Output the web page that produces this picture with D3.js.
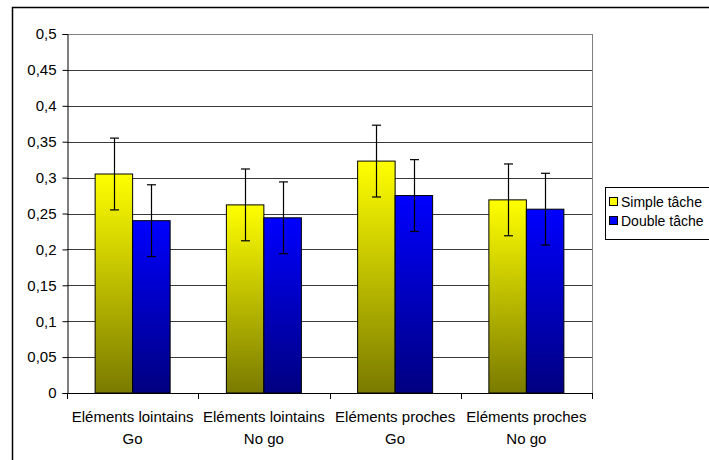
<!DOCTYPE html>
<html>
<head>
<meta charset="utf-8">
<script src="https://cdn.jsdelivr.net/npm/d3@7"></script>
<style>
  html, body { margin: 0; padding: 0; background: #fff; overflow: hidden; }
  svg { display: block; font-family: "Liberation Sans", Arial, sans-serif; }
</style>
</head>
<body>
<svg id="chart" width="709" height="460"></svg>
<script>
const categories = [["Eléments lointains", "Go"], ["Eléments lointains", "No go"], ["Eléments proches", "Go"], ["Eléments proches", "No go"]];
const seriesNames = ["Simple tâche", "Double tâche"];
const simpleValues = [0.305, 0.262, 0.323, 0.269];
const doubleValues = [0.240, 0.244, 0.275, 0.256];
const simpleErrors = [0.05, 0.05, 0.05, 0.05];
const doubleErrors = [0.05, 0.05, 0.05, 0.05];
const yTicks = [0, 0.05, 0.1, 0.15, 0.2, 0.25, 0.3, 0.35, 0.4, 0.45, 0.5];

(function () {
const FONT = "'Liberation Sans', Arial, sans-serif";
const svg = d3.select("#chart");
const pLeft = 67, pRight = 592, pTop = 34, pBottom = 393;

// outer chart border
svg.append("rect").attr("x", 12.5).attr("y", 7.5).attr("width", 740).attr("height", 500)
  .attr("fill", "none").attr("stroke", "#000").attr("stroke-width", 1.5);

const defs = svg.append("defs");
const gradSpecs = [["gradSimple", "#ffff00", "#7a7a00"], ["gradDouble", "#0000ff", "#000080"]];
gradSpecs.forEach(([id, c1, c2]) => {
  const g = defs.append("linearGradient").attr("id", id).attr("x1", 0).attr("y1", 0).attr("x2", 0).attr("y2", 1);
  g.append("stop").attr("offset", "0%").attr("stop-color", c1);
  g.append("stop").attr("offset", "100%").attr("stop-color", c2);
});

const y = d3.scaleLinear().domain([0, 0.5]).range([pBottom, pTop]);
const x0 = d3.scaleBand().domain(d3.range(categories.length)).range([pLeft, pRight]).padding(0);
const bw = x0.bandwidth();
const barW = bw / 3.5;
const x1 = d3.scaleBand().domain(d3.range(seriesNames.length)).range([barW * 0.75, barW * 2.75]).padding(0);

const fmt = v => String(v).replace(".", ",");

// gridlines
svg.append("g").selectAll("line").data(yTicks.filter(t => t > 0)).join("line")
  .attr("x1", pLeft).attr("x2", pRight)
  .attr("y1", d => Math.round(y(d)) + 0.5).attr("y2", d => Math.round(y(d)) + 0.5)
  .attr("stroke", d => d === 0.5 ? "#808080" : "#3a3a3a").attr("stroke-width", 1);

// plot area right border
svg.append("line").attr("x1", pRight + 0.5).attr("x2", pRight + 0.5).attr("y1", pTop).attr("y2", pBottom)
  .attr("stroke", "#808080");

// bars
const series = [
  { vals: simpleValues, errs: simpleErrors, fill: "url(#gradSimple)" },
  { vals: doubleValues, errs: doubleErrors, fill: "url(#gradDouble)" }
];
series.forEach((s, si) => {
  const g = svg.append("g");
  g.selectAll("rect").data(s.vals).join("rect")
    .attr("x", (d, i) => x0(i) + x1(si))
    .attr("y", d => y(d))
    .attr("width", x1.bandwidth())
    .attr("height", d => pBottom - y(d))
    .attr("fill", s.fill)
    .attr("stroke", "#000").attr("stroke-width", 1);
});

// error bars
series.forEach((s, si) => {
  const g = svg.append("g").attr("stroke", "#000").attr("stroke-width", 1.2);
  s.vals.forEach((v, i) => {
    const cx = Math.round(x0(i) + x1(si) + x1.bandwidth() / 2) + 0.5;
    const hi = y(v + s.errs[i]), lo = y(v - s.errs[i]);
    g.append("line").attr("x1", cx).attr("x2", cx).attr("y1", hi).attr("y2", lo);
    g.append("line").attr("x1", cx - 4.5).attr("x2", cx + 4.5).attr("y1", hi).attr("y2", hi);
    g.append("line").attr("x1", cx - 4.5).attr("x2", cx + 4.5).attr("y1", lo).attr("y2", lo);
  });
});

// y axis
const yAxis = d3.axisLeft(y).tickValues(yTicks).tickFormat(fmt).tickSize(5).tickPadding(6);
const ga = svg.append("g").attr("transform", `translate(${pLeft + 0.5},0)`).call(yAxis);
ga.select(".domain").attr("stroke", "#000");
ga.selectAll(".tick line").attr("stroke", "#000");
ga.selectAll("text").attr("font-size", 15).attr("fill", "#000").attr("font-family", FONT);

// x axis
svg.append("line").attr("x1", pLeft).attr("x2", pRight + 1).attr("y1", pBottom + 0.5).attr("y2", pBottom + 0.5).attr("stroke", "#000");
const bounds = d3.range(categories.length + 1).map(i => i < categories.length ? x0(i) : pRight);
svg.append("g").selectAll("line").data(bounds).join("line")
  .attr("x1", d => Math.round(d) + 0.5).attr("x2", d => Math.round(d) + 0.5)
  .attr("y1", pBottom).attr("y2", pBottom + 6).attr("stroke", "#000");

const xl = svg.append("g").attr("font-size", 15).attr("font-family", FONT).attr("fill", "#000").attr("text-anchor", "middle");
categories.forEach((c, i) => {
  const t = xl.append("text").attr("x", x0(i) + bw / 2).attr("y", 422);
  t.append("tspan").attr("x", x0(i) + bw / 2).attr("dy", 0).text(c[0]);
  t.append("tspan").attr("x", x0(i) + bw / 2).attr("dy", 21.5).text(c[1]);
});

// legend
const lg = svg.append("g");
lg.append("rect").attr("x", 605.5).attr("y", 187.5).attr("width", 120).attr("height", 52)
  .attr("fill", "#fff").attr("stroke", "#000");
const legendFills = ["#ffff00", "#0000ff"];
seriesNames.forEach((n, i) => {
  const cy = 202 + i * 19;
  lg.append("rect").attr("x", 609.5).attr("y", cy - 4.5).attr("width", 8).attr("height", 8)
    .attr("fill", legendFills[i]).attr("stroke", "#000");
  lg.append("text").attr("x", 621).attr("y", cy + 5).attr("font-size", 14).attr("font-family", FONT).attr("fill", "#000").text(n);
});
})();
</script>
</body>
</html>
